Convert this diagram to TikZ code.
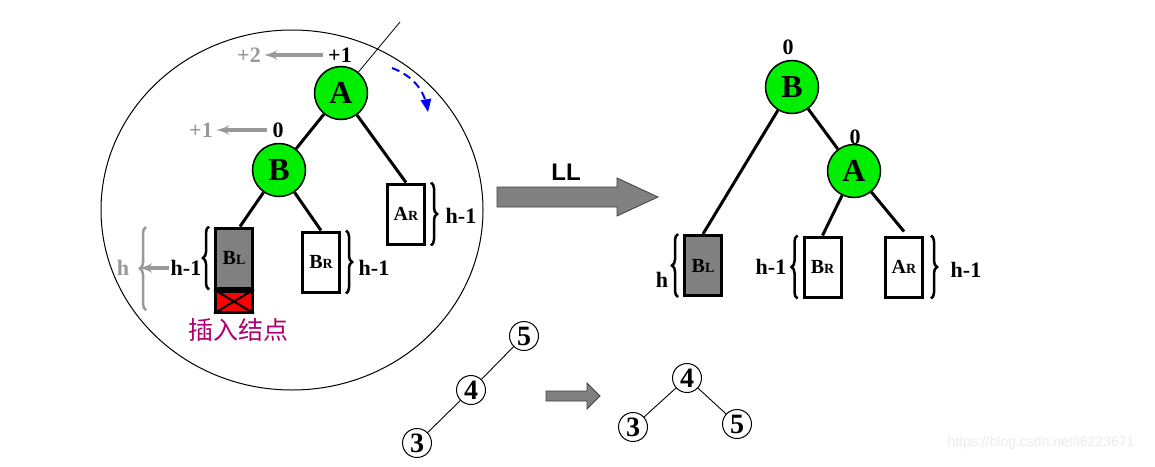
\documentclass[tikz,border=0pt]{standalone}
\usepackage{fontspec}
\setmainfont{Liberation Serif}
\newfontfamily\cjk{Noto Sans CJK SC}
\newfontfamily\arialfont{Liberation Sans}
\usetikzlibrary{shapes,arrows,positioning,decorations.pathreplacing}
\definecolor{nodegreen}{RGB}{0,238,0}
\definecolor{insmagenta}{RGB}{176,0,112}
\newcommand{\fsz}[1]{\fontsize{#1}{#1}\selectfont}
\tikzstyle{avl} = [circle, draw, fill=nodegreen, line width=1.5pt, minimum size=53pt, inner sep=0pt, font=\fsz{32}\bfseries]
\tikzstyle{subtree} = [rectangle, draw, line width=3pt, minimum width=37pt, minimum height=60pt, inner sep=0pt, font=\fsz{20}\bfseries]
\tikzstyle{link} = [draw, line width=3pt]
\tikzstyle{bal} = [font=\fsz{22}\bfseries, inner sep=1pt]
\tikzstyle{oldbal} = [bal, text=gray!80]
\tikzstyle{brace} = [draw, line width=2.5pt, decorate, decoration={brace, amplitude=6pt}]
\tikzstyle{grayarrow} = [draw, gray!80, line width=3.5pt, -latex']
\tikzstyle{num} = [circle, draw, line width=1pt, minimum size=29pt, inner sep=0pt, font=\fsz{28}\bfseries]
\tikzstyle{numlink} = [draw, line width=0.9pt]
\tikzstyle{fatarrow} = [draw=black!75, fill=gray, line width=0.8pt]

\begin{document}
\begin{tikzpicture}[x=1pt, y=-1pt]
    \useasboundingbox (0,0) rectangle (1155,466);
    % Before rotation
    \draw[line width=1pt] (292,210) ellipse [x radius=191pt, y radius=180pt];
    \node [avl] (A) at (341,93) {A};
    \node [avl] (B) at (279,170) {B};
    \node [subtree, fill=gray] (BL) at (234,258) {B{\fsz{14}L}};
    \node [rectangle, draw, line width=3pt, fill=red, minimum width=37pt, minimum height=21pt, inner sep=0pt, anchor=north] (ins) at (BL.south) {};
    \node [subtree] (BR) at (321,262) {B{\fsz{14}R}};
    \node [subtree] (AR) at (406,214) {A{\fsz{14}R}};
    \coordinate (tail) at (400,22);
    \draw[line width=0.8pt] (A) -- (tail);
    \draw[line width=2pt] (ins.north west) -- (ins.south east) (ins.north east) -- (ins.south west);
    \node [font=\cjk\fsz{25}, text=insmagenta] (instext) at (238,330) {插入结点};

    \node [bal] (balA) at (340,55) {+1};
    \node [oldbal] (oldA) at (249,55) {+2};
    \node [bal] (balB) at (278,130) {0};
    \node [oldbal] (oldB) at (201,130) {+1};
    \path [grayarrow, shorten <=4pt, shorten >=2pt] (balA) -- (oldA);
    \path [grayarrow, shorten <=4pt, shorten >=2pt] (balB) -- (oldB);
    \draw[blue, dashed, dash pattern=on 8pt off 5pt, line width=2pt, -triangle 45] (392,68) to[bend left=30] (428,112);

    \path [link] (A) -- (B);
    \path [link] (A) -- (AR.north);
    \path [link] (B) -- ([xshift=6pt]BL.north);
    \path [link] (B) -- (BR.north);

    \draw[brace] ([xshift=-5pt]BL.south west) -- ([xshift=-5pt]BL.north west);
    \node [bal] (hBL) at (186,268) {h-1};
    \draw[brace, gray!80] (146,310) -- (146,227);
    \coordinate (htip) at (139,268);
    \node [oldbal] (hold) at (123,268) {h};
    \path [grayarrow, shorten <=1pt] (hBL) -- (htip);
    \draw[brace] ([xshift=5pt]BR.north east) -- ([xshift=5pt]BR.south east);
    \node [bal] (hBR) at (374,268) {h-1};
    \draw[brace] ([xshift=5pt]AR.north east) -- ([xshift=5pt]AR.south east);
    \node [bal] (hAR) at (461,216) {h-1};

    % LL rotation arrow
    \draw[fatarrow] (497,187) -- (617,187) -- (617,178) -- (658,197) -- (617,216) -- (617,207) -- (497,207) -- cycle;
    \node [font=\arialfont\fsz{24}\bfseries] (LL) at (566,172) {LL};

    % After rotation
    \node [avl] (B2) at (792,87) {B};
    \node [avl] (A2) at (854,171) {A};
    \node [bal] at (788,47) {0};
    \node [bal] at (855,137) {0};
    \node [subtree, fill=gray] (BL2) at (703,265.5) {B{\fsz{14}L}};
    \node [subtree] (BR2) at (822.5,267) {B{\fsz{14}R}};
    \node [subtree] (AR2) at (904,267) {A{\fsz{14}R}};
    \path [link] (B2) -- (BL2.north);
    \path [link] (B2) -- (A2);
    \path [link] (A2) -- (BR2.north);
    \path [link] (A2) -- ([yshift=4pt]AR2.north);
    \draw[brace] ([xshift=-5pt]BL2.south west) -- ([xshift=-5pt]BL2.north west);
    \node [bal] at (662,280) {h};
    \draw[brace] ([xshift=-5pt]BR2.south west) -- ([xshift=-5pt]BR2.north west);
    \node [bal] at (771,267) {h-1};
    \draw[brace] ([xshift=7pt]AR2.north east) -- ([xshift=7pt]AR2.south east);
    \node [bal] at (966,270) {h-1};

    % Example 5-4-3
    \node [num] (n5) at (524,336) {5};
    \node [num] (n4) at (471,390) {4};
    \node [num] (n3) at (417,443) {3};
    \path [numlink] (n5) -- (n4);
    \path [numlink] (n4) -- (n3);
    \draw[fatarrow] (546,391) -- (587,391) -- (587,383) -- (600,396) -- (587,409) -- (587,401) -- (546,401) -- cycle;
    \node [num] (m4) at (687,378) {4};
    \node [num] (m3) at (633,427) {3};
    \node [num] (m5) at (737,424) {5};
    \path [numlink] (m4) -- (m3);
    \path [numlink] (m4) -- (m5);

    \node [text=black!8, font=\arialfont\fsz{14}] (mark) at (1041,443) {https://blog.csdn.net/i6223671};
\end{tikzpicture}
\end{document}
